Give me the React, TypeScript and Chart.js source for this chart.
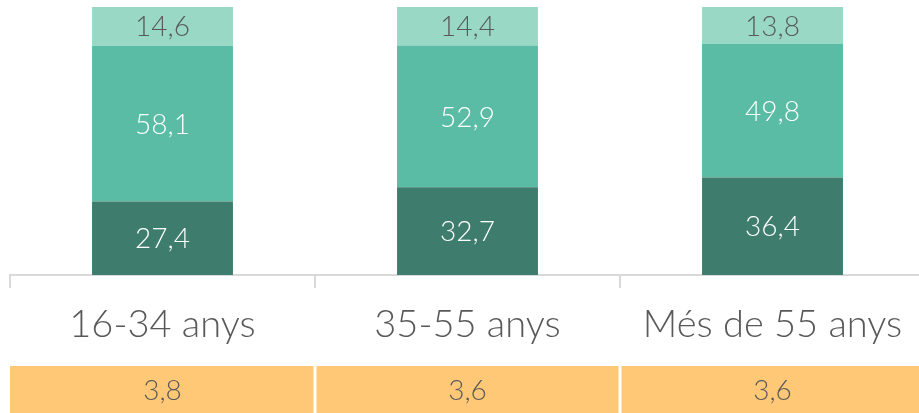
import React, { useEffect, useRef } from "react";
import { Chart, registerables } from "chart.js";

Chart.register(...registerables);

const categories = ["16-34 anys", "35-55 anys", "Més de 55 anys"];
const bottomValues = [27.4, 32.7, 36.4];
const middleValues = [58.1, 52.9, 49.8];
const topValues = [14.6, 14.4, 13.8];
const tableValues = [3.8, 3.6, 3.6];

const FONT = "Lato, 'Open Sans', sans-serif";
const fmt = (v: number) => v.toFixed(1).replace(".", ",");

const labelPlugin = {
  id: "segLabels",
  afterDatasetsDraw(chart: any) {
    const ctx = chart.ctx;
    ctx.save();
    ctx.textAlign = "center";
    ctx.textBaseline = "middle";
    ctx.font = `300 28px ${FONT}`;
    chart.data.datasets.forEach((ds: any, di: number) => {
      const meta = chart.getDatasetMeta(di);
      meta.data.forEach((bar: any, i: number) => {
        const y = (bar.y + bar.base) / 2;
        ctx.fillStyle = di === 2 ? "#595959" : "#ffffff";
        ctx.fillText(fmt(ds.data[i]), bar.x, y + 1);
      });
    });
    ctx.restore();
  },
};

const tablePlugin = {
  id: "bottomTable",
  afterDraw(chart: any) {
    const ctx = chart.ctx;
    const xs = chart.scales.x;
    const n = categories.length;
    const w = (xs.right - xs.left) / n;
    const top = 366;
    const bottom = chart.height;
    ctx.save();
    for (let i = 0; i < n; i++) {
      const l = xs.left + i * w;
      const r = l + w;
      ctx.fillStyle = "#ffc877";
      ctx.fillRect(l + (i === 0 ? 0 : 1.5), top, w - (i === 0 ? 1.5 : 3), bottom - top);
      ctx.fillStyle = "#595959";
      ctx.font = `300 28px ${FONT}`;
      ctx.textAlign = "center";
      ctx.textBaseline = "middle";
      ctx.fillText(fmt(tableValues[i]), (l + r) / 2, 391);
    }
    ctx.restore();
  },
};

export default function App() {
  const ref = useRef<HTMLCanvasElement>(null);
  useEffect(() => {
    if (!ref.current) return;
    const chart = new Chart(ref.current, {
      type: "bar",
      data: {
        labels: categories,
        datasets: [
          { data: bottomValues, backgroundColor: "#3e7d6d" },
          { data: middleValues, backgroundColor: "#5abca4" },
          { data: topValues, backgroundColor: "#98d8c5" },
        ],
      },
      options: {
        responsive: false,
        animation: false,
        devicePixelRatio: 1,
        layout: { padding: { left: 10, right: 0, top: 7, bottom: 0 } },
        datasets: { bar: { categoryPercentage: 1, barPercentage: 0.462 } } as any,
        plugins: { legend: { display: false }, tooltip: { enabled: false } },
        scales: {
          y: { stacked: true, display: false, min: 0, max: 100 },
          x: {
            stacked: true,
            afterFit: (s: any) => {
              s.height = 138;
            },
            border: { display: true, color: "#d9d9d9", width: 2 },
            grid: {
              display: true,
              drawOnChartArea: false,
              drawTicks: true,
              tickLength: 13,
              color: "#d9d9d9",
              lineWidth: 2,
              offset: true,
            },
            ticks: {
              color: "#595959",
              font: { family: FONT, size: 38, weight: "300" as any },
              padding: 14,
              maxRotation: 0,
              autoSkip: false,
            },
          },
        },
      },
      plugins: [labelPlugin, tablePlugin],
    });
    return () => chart.destroy();
  }, []);
  return (
    <div
      style={{
        position: "fixed",
        left: 0,
        top: 0,
        width: 919,
        height: 413,
        overflow: "hidden",
        background: "#fff",
      }}
    >
      <canvas ref={ref} width={925} height={413} style={{ display: "block" }} />
    </div>
  );
}
